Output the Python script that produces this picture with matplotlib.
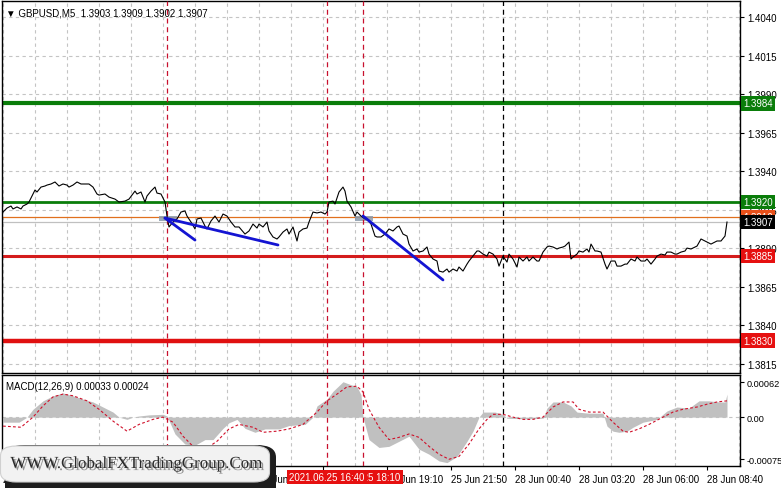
import numpy as np
import matplotlib.pyplot as plt
import matplotlib.patches as mpatches
import matplotlib.patheffects as pe
import matplotlib.transforms as mtrans

plt.rcParams['font.family'] = ['Liberation Sans', 'DejaVu Sans']

# price series (M5 bar index, close)
bar_idx = [0, 2, 4, 5, 7, 9, 10, 12, 13, 15, 16, 17, 19, 21, 22, 24, 26, 28, 30, 32,
           33, 35, 37, 39, 41, 43, 45, 47, 48, 51, 53, 56, 58, 61, 63, 66, 67, 69, 71, 72,
           74, 76, 77, 79, 81, 82, 83, 85, 87, 89, 91, 92, 94, 96, 97, 99, 101, 102, 104, 106,
           108, 110, 112, 114, 116, 118, 121, 123, 125, 127, 128, 130, 132, 133, 135, 137, 138, 140, 142, 143,
           145, 147, 148, 150, 152, 153, 155, 157, 159, 161, 162, 163, 165, 166, 168, 170, 171, 172, 174, 176,
           177, 179, 181, 182, 184, 186, 187, 189, 191, 193, 195, 197, 198, 200, 202, 203, 205, 207, 208, 210,
           212, 213, 215, 217, 218, 220, 222, 223, 225, 227, 228, 230, 232, 233, 235, 237, 238, 240, 242, 243,
           245, 247, 248, 250, 252, 253, 255, 257, 258, 260, 262, 263, 265, 267, 268, 270, 272, 273, 275, 277,
           278, 280, 281, 283, 284, 285, 287, 288, 290, 292, 293, 294, 296, 297, 299, 301, 302, 304, 306, 307,
           309, 311, 312, 314, 316, 317, 319, 321, 322, 324, 326, 327, 329, 331, 332, 334, 336, 337, 339, 341,
           342, 344, 346, 347, 349, 351, 352, 354, 356, 357, 359, 361, 362]
close = [1.39135, 1.39161, 1.39174, 1.39155, 1.39168, 1.39155, 1.39174, 1.39187, 1.39200, 1.39252,
         1.39278, 1.39265, 1.39297, 1.39304, 1.39310, 1.39317, 1.39330, 1.39304, 1.39317, 1.39310,
         1.39297, 1.39310, 1.39330, 1.39317, 1.39317, 1.39317, 1.39297, 1.39252, 1.39245, 1.39252,
         1.39232, 1.39219, 1.39200, 1.39206, 1.39219, 1.39271, 1.39252, 1.39265, 1.39200, 1.39239,
         1.39271, 1.39297, 1.39258, 1.39252, 1.39200, 1.39109, 1.39038, 1.39070, 1.39090, 1.39135,
         1.39142, 1.39109, 1.39070, 1.39025, 1.39090, 1.39096, 1.39044, 1.39025, 1.39077, 1.39109,
         1.39070, 1.39122, 1.39109, 1.39070, 1.39038, 1.39038, 1.38992, 1.39012, 1.39057, 1.39031,
         1.39057, 1.39038, 1.39070, 1.39012, 1.38973, 1.38960, 1.38973, 1.39005, 1.39025, 1.38992,
         1.39038, 1.38947, 1.39005, 1.39025, 1.39031, 1.39070, 1.39135, 1.39129, 1.39135, 1.39122,
         1.39135, 1.39200, 1.39206, 1.39187, 1.39265, 1.39297, 1.39271, 1.39206, 1.39168, 1.39109,
         1.39135, 1.39109, 1.39090, 1.39090, 1.39057, 1.38979, 1.38973, 1.38973, 1.38992, 1.39025,
         1.39012, 1.39038, 1.39044, 1.38992, 1.38979, 1.38927, 1.38882, 1.38895, 1.38875, 1.38882,
         1.38908, 1.38862, 1.38830, 1.38817, 1.38752, 1.38745, 1.38765, 1.38745, 1.38765, 1.38752,
         1.38778, 1.38752, 1.38797, 1.38817, 1.38849, 1.38882, 1.38882, 1.38862, 1.38849, 1.38875,
         1.38862, 1.38830, 1.38784, 1.38849, 1.38810, 1.38862, 1.38830, 1.38778, 1.38843, 1.38817,
         1.38843, 1.38817, 1.38843, 1.38817, 1.38817, 1.38875, 1.38908, 1.38914, 1.38908, 1.38895,
         1.38901, 1.38908, 1.38914, 1.38940, 1.38830, 1.38843, 1.38862, 1.38882, 1.38875, 1.38895,
         1.38875, 1.38927, 1.38882, 1.38882, 1.38875, 1.38797, 1.38765, 1.38817, 1.38817, 1.38784,
         1.38784, 1.38797, 1.38797, 1.38830, 1.38817, 1.38843, 1.38817, 1.38817, 1.38830, 1.38797,
         1.38830, 1.38849, 1.38862, 1.38856, 1.38875, 1.38875, 1.38862, 1.38862, 1.38875, 1.38882,
         1.38901, 1.38895, 1.38908, 1.38914, 1.38960, 1.38947, 1.38940, 1.38927, 1.38940, 1.38947,
         1.38947, 1.38979, 1.39070]

# MACD histogram and signal line
macd_idx = [0, 8, 12, 15, 20, 25, 30, 35, 40, 45, 50, 55, 58, 62, 65, 68, 73, 80, 82, 86,
            91, 96, 101, 105, 110, 113, 117, 121, 126, 131, 138, 143, 151, 155, 157, 162, 165, 170, 173, 177,
            179, 180, 183, 188, 193, 198, 203, 208, 213, 218, 222, 227, 232, 235, 238, 240, 246, 250, 252, 261,
            270, 272, 275, 280, 284, 287, 293, 300, 302, 305, 308, 312, 315, 320, 327, 332, 337, 343, 348, 353,
            358, 361, 362]
macd_main = [-0.00009, -0.00009, 0.0, 0.00014, 0.00029, 0.00038, 0.00043, 0.00038, 0.00032, 0.00027,
             0.00018, 0.00009, 0.0, -0.00004, 0.0, 0.00002, 0.00004, 0.00005, 0.00002, -0.0003,
             -0.00048, -0.0005, -0.0004, -0.0004, -0.0002, -0.0001, -0.00004, -0.0002, -0.00027, -0.00021,
             -0.00021, -0.00015, -0.00013, 0.0, 0.0002, 0.00032, 0.00046, 0.00063, 0.00059, 0.00054,
             0.0004, 0.0, -0.0004, -0.00054, -0.00052, -0.00043, -0.00034, -0.00057, -0.00066, -0.00078,
             -0.00081, -0.0007, -0.00043, -0.00025, 0.0, 0.00009, 0.00009, 0.00005, -0.00002, -0.00003,
             -0.00002, 0.00016, 0.00027, 0.00027, 0.0002, 0.00009, 0.00007, 0.00007, -0.00016, -0.00025,
             -0.00027, -0.00025, -0.00018, -0.00009, -0.00004, 0.00011, 0.00018, 0.00016, 0.00029, 0.00029,
             0.00027, 0.00027, 0.00041]
sig_idx = [0, 9, 15, 20, 25, 30, 35, 42, 48, 55, 62, 68, 75, 80, 85, 90, 95, 102, 107, 113,
           118, 125, 130, 137, 143, 150, 157, 162, 167, 172, 177, 180, 183, 188, 193, 198, 203, 208, 213, 218,
           223, 228, 233, 238, 242, 245, 250, 255, 260, 265, 270, 275, 280, 285, 288, 293, 300, 305, 310, 313,
           318, 323, 330, 335, 340, 347, 352, 357, 362]
macd_signal = [-0.00016, -0.00018, 0.0, 0.0002, 0.00036, 0.00041, 0.00038, 0.00029, 0.00014, -0.00007,
               -0.00025, -0.00013, -0.00004, 0.0, -0.00009, -0.00034, -0.00052, -0.00055, -0.00043, -0.00021,
               -0.00013, -0.00018, -0.00027, -0.00025, -0.00021, -0.00013, 0.00009, 0.00029, 0.00041, 0.00054,
               0.00055, 0.00045, 0.00014, -0.00018, -0.0004, -0.00036, -0.0003, -0.00036, -0.00052, -0.00066,
               -0.00075, -0.0007, -0.00048, -0.00021, -0.00004, 0.00005, 0.00005, 0.0, -0.00004, -0.00004,
               0.0, 0.00018, 0.00027, 0.00027, 0.00014, 0.00009, 0.00009, -0.00009, -0.00025, -0.00027,
               -0.00021, -0.00013, 0.0, 0.00009, 0.00014, 0.00018, 0.00023, 0.00027, 0.00029]

# levels and marked bars
level_green_hi = 1.3984
level_green_lo = 1.3920
level_orange = 1.3910
bid_price = 1.3907
level_red_hi = 1.3885
level_red_lo = 1.3830
event_bars = [82, 162, 180]
event_labels = ["2021.06.25 16:40", "2021.06.25 18:10"]
day_sep_bar = 250

# hand drawn trend lines: (bar0, price0, bar1, price1)
trend_lines = [(81, 1.39096, 96, 1.38953),
               (81, 1.39096, 137.5, 1.38921),
               (180, 1.39109, 220, 1.38694)]
boxes = [(78, 87, 1.39080, 1.39112), (176, 185, 1.39080, 1.39112)]

time_ticks = list(range(0, 353, 32))
time_labels = ["25 Jun 03:10", "25 Jun 05:50", "25 Jun 08:30", "25 Jun 11:10",
               "25 Jun 13:50", "25 Jun 16:30", "25 Jun 19:10", "25 Jun 21:50",
               "28 Jun 00:40", "28 Jun 03:20", "28 Jun 06:00", "28 Jun 08:40"]
price_ticks = [1.4040, 1.4015, 1.3990, 1.3965, 1.3940, 1.3915, 1.3890, 1.3865, 1.3840, 1.3815]
macd_ticks = [0.00062, 0.0, -0.00075]
macd_tick_labels = ["0.00062", "0.00", "-0.00075"]

W, H = 781, 489
fig = plt.figure(figsize=(W / 100, H / 100), dpi=100)


def frac(x0, y0, x1, y1):
    return [x0 / W, 1 - y1 / H, (x1 - x0) / W, (y1 - y0) / H]


ax = fig.add_axes(frac(2, 2, 740, 374))
mx = fig.add_axes(frac(2, 376, 740, 467))

FS = 7.0
grid_kw = dict(color='#c4c4c4', linestyle=(0, (3, 3)), linewidth=0.8)
for a in (ax, mx):
    a.set_xlim(-0.5, 368.5)
    for s in a.spines.values():
        s.set_color('black')
        s.set_linewidth(1.0)
    a.set_xticks(range(0, 369, 16), minor=True)
    a.grid(True, which='minor', axis='x', **grid_kw)
    a.set_axisbelow(True)
    a.yaxis.tick_right()
    a.tick_params(axis='y', labelsize=FS, length=3, pad=2, colors='black')
    a.tick_params(axis='x', which='minor', length=0)

# main price panel
ax.set_ylim(1.38090, 1.40505)
ax.set_yticks(price_ticks)
ax.set_yticklabels([f"{p:.4f}" for p in price_ticks])
ax.yaxis.grid(True, **grid_kw)
ax.set_xticks([])

ax.axhline(bid_price, color='#c0c0c0', lw=0.9, zorder=2)
ax.axhline(level_orange, color='#e0701e', lw=0.9, zorder=2)
ax.axhline(level_green_hi, color='#0a7d0a', lw=3.0, zorder=2)
ax.axhline(level_green_lo, color='#0a7d0a', lw=2.0, zorder=2)
ax.axhline(level_red_hi, color='#d41c1c', lw=2.2, zorder=2)
ax.axhline(level_red_lo, color='#e01010', lw=3.2, zorder=2)

for b0, b1, p0, p1 in boxes:
    ax.add_patch(mpatches.Rectangle((b0, p0), b1 - b0, p1 - p0, facecolor='#8a9aab',
                                    edgecolor='none', alpha=0.85, zorder=3))

ax.plot(bar_idx, close, color='black', lw=0.8, zorder=4)

for b0, p0, b1, p1 in trend_lines:
    ax.plot([b0, b1], [p0, p1], color='#1414d2', lw=2.0, solid_capstyle='round', zorder=5)

ax.text(0.006, 0.982, "\u25bc GBPUSD,M5  1.3903 1.3909 1.3902 1.3907", transform=ax.transAxes,
        fontsize=FS, va='top', ha='left', zorder=6)

# right side price labels
lbl = mtrans.blended_transform_factory(ax.transAxes, ax.transData)
for price, fc in [(level_green_hi, '#0a7d0a'), (level_green_lo, '#0a7d0a'),
                  (level_orange, '#e8501a'), (bid_price, 'black'),
                  (level_red_hi, '#e61010'), (level_red_lo, '#e61010')]:
    ax.text(1.004, price, f"{price:.4f}", transform=lbl, fontsize=FS, color='white',
            va='center', ha='left', clip_on=False, zorder=7,
            bbox=dict(boxstyle='square,pad=0.25', fc=fc, ec='none'))

# event and day separator lines through both panels
for a in (ax, mx):
    for b in event_bars:
        a.axvline(b, color='#c8102e', lw=0.9, linestyle=(0, (4, 3)), zorder=3)
    a.axvline(day_sep_bar, color='black', lw=0.9, linestyle=(0, (4, 3)), zorder=3)

# MACD panel
mx.set_ylim(-0.00087, 0.00075)
mx.set_yticks(macd_ticks)
mx.set_yticklabels(macd_tick_labels)
mx.tick_params(axis='y', labelsize=6.6, pad=1.5)
mx.axhline(0, **grid_kw, zorder=0)
mx.fill_between(macd_idx, 0, macd_main, color='#c0c0c0', lw=0, zorder=1)
mx.plot(sig_idx, macd_signal, color='#d0102a', lw=0.8, linestyle=(0, (2.5, 2)), zorder=4)
mx.text(0.006, 0.93, "MACD(12,26,9) 0.00033 0.00024", transform=mx.transAxes,
        fontsize=FS, va='top', ha='left')

mx.set_xticks(time_ticks)
mx.set_xticklabels(time_labels, fontsize=FS, ha='left')
mx.tick_params(axis='x', which='major', length=3, pad=3, colors='black')

# red labels for the event lines on the time axis (18:10 underneath 16:40)
tlbl = mtrans.blended_transform_factory(mx.transData, mx.transAxes)
for b, text, z in [(event_bars[2], event_labels[1], 7), (event_bars[1], event_labels[0], 8)]:
    mx.text(b, -0.12, text, transform=tlbl, fontsize=FS, color='white',
            ha='center', va='center', clip_on=False, zorder=z,
            bbox=dict(boxstyle='square,pad=0.22', fc='#e61010', ec='none'))

# watermark
shadow = mpatches.FancyBboxPatch((5 / W, -12 / H), 271 / W, 55 / H,
                                 boxstyle='round,pad=0,rounding_size=0.025',
                                 transform=fig.transFigure, fc='#1e1e1e', ec='none', zorder=10)
card = mpatches.FancyBboxPatch((0.5 / W, 6 / H), 269 / W, 36 / H,
                               boxstyle='round,pad=0,rounding_size=0.02',
                               transform=fig.transFigure, fc='#f2f2f2', ec='#d0d0d0', lw=0.8, zorder=11)
fig.patches.extend([shadow, card])
fig.text(136 / W, 1 - 465 / H, "WWW.GlobalFXTradingGroup.Com", fontsize=12.2,
         family='Liberation Serif', color='#2a2a2a', ha='center', va='center', zorder=12,
         path_effects=[pe.withSimplePatchShadow(offset=(1.5, -1.5), shadow_rgbFace='#555555', alpha=0.6)])

fig.savefig('out.png', dpi=100)
